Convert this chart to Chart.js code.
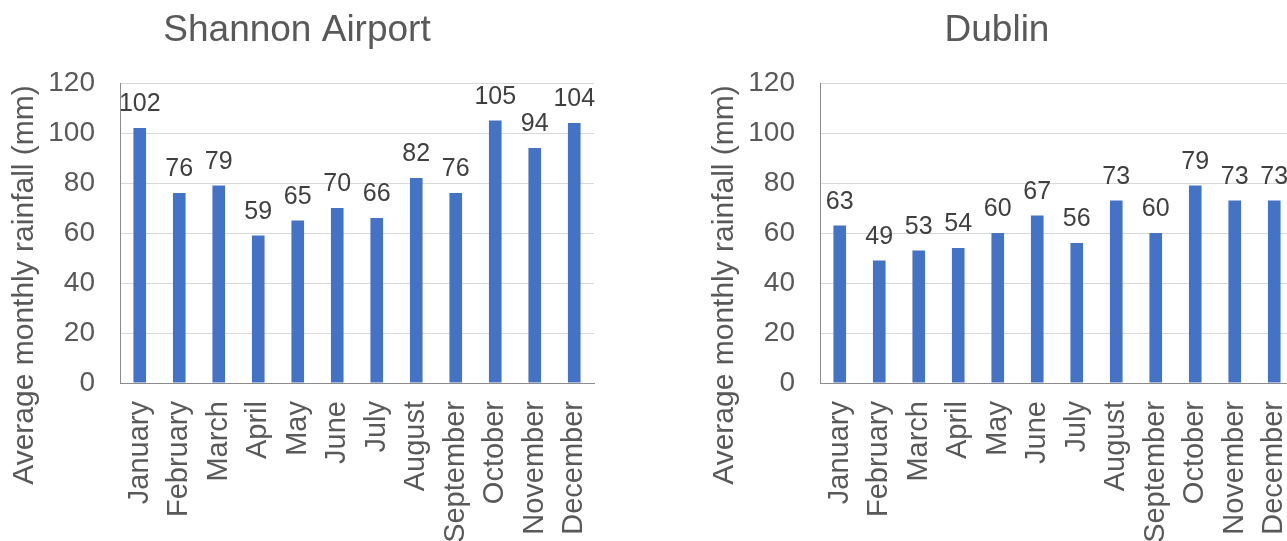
<!DOCTYPE html>
<html>
<head>
<meta charset="utf-8">
<script src="https://cdn.jsdelivr.net/npm/chart.js@4.4.1/dist/chart.umd.min.js"></script>
<style>
  html, body { margin: 0; padding: 0; background: #ffffff; overflow: hidden; width: 1287px; height: 541px; }
  .panel { position: absolute; top: 0; width: 600px; height: 541px; }
  #p1 { left: 0; }
  #p2 { left: 700px; }
</style>
</head>
<body>
<div class="panel" id="p1"><canvas id="shannon" width="600" height="541"></canvas></div>
<div class="panel" id="p2"><canvas id="dublin" width="600" height="541"></canvas></div>
<script>
// Average monthly rainfall (mm) at two Irish stations
const months = ['January', 'February', 'March', 'April', 'May', 'June', 'July',
                'August', 'September', 'October', 'November', 'December'];
const shannonRain = [102, 76, 79, 59, 65, 70, 66, 82, 76, 105, 94, 104];
const dublinRain  = [63, 49, 53, 54, 60, 67, 56, 73, 60, 79, 73, 73];
const yTicks = [0, 20, 40, 60, 80, 100, 120];
const axisTitleText = 'Average monthly rainfall (mm)';

const FONT = "'Liberation Sans', Arial, sans-serif";
const TEXT = '#595959';

// writes each bar's value above it
const valueLabels = {
  id: 'valueLabels',
  afterDatasetsDraw(chart) {
    const ctx = chart.ctx;
    const ds = chart.data.datasets[0];
    const meta = chart.getDatasetMeta(0);
    ctx.save();
    ctx.font = '25px ' + FONT;
    ctx.fillStyle = '#404040';
    ctx.textAlign = 'center';
    ctx.textBaseline = 'alphabetic';
    meta.data.forEach((bar, i) => ctx.fillText(String(ds.data[i]), bar.x, bar.y - 17));
    ctx.restore();
  }
};

// vertical axis title, set left of the tick labels
const axisTitle = {
  id: 'axisTitle',
  afterDraw(chart, args, opts) {
    const { ctx, chartArea } = chart;
    ctx.save();
    ctx.font = '30px ' + FONT;
    ctx.fillStyle = TEXT;
    ctx.textAlign = 'center';
    ctx.textBaseline = 'middle';
    ctx.translate(chartArea.left - 95, (chartArea.top + chartArea.bottom) / 2 + 52);
    ctx.rotate(-Math.PI / 2);
    ctx.fillText(opts.text, 0, 0);
    ctx.restore();
  }
};

function makeChart(id, title, values) {
  return new Chart(document.getElementById(id), {
    type: 'bar',
    data: {
      labels: months,
      datasets: [{
        data: values,
        backgroundColor: '#4472C4',
        borderWidth: 0,
        categoryPercentage: 1,
        barPercentage: 0.32
      }]
    },
    options: {
      responsive: false,
      animation: false,
      devicePixelRatio: 1,
      layout: { padding: { left: 0, right: 6, top: 0, bottom: 0 } },
      plugins: {
        legend: { display: false },
        tooltip: { enabled: false },
        title: {
          display: true,
          text: title,
          color: TEXT,
          font: { family: FONT, size: 37, weight: 'normal' },
          padding: { top: 9, bottom: 29.6 }
        },
        axisTitle: { text: axisTitleText }
      },
      scales: {
        x: {
          grid: { display: false, drawTicks: false },
          border: { display: true, color: '#8c8c8c', width: 1 },
          ticks: {
            color: TEXT,
            font: { family: FONT, size: 29 },
            autoSkip: false,
            minRotation: 90,
            maxRotation: 90,
            padding: 18
          },
          afterFit(scale) {
            scale.height = 158;
            scale.paddingLeft = 0;
            scale.paddingRight = 0;
          }
        },
        y: {
          min: yTicks[0],
          max: yTicks[yTicks.length - 1],
          grid: { color: '#d9d9d9', lineWidth: 1, drawTicks: false },
          border: { display: true, color: '#8c8c8c', width: 1 },
          ticks: {
            stepSize: yTicks[1] - yTicks[0],
            color: TEXT,
            font: { family: FONT, size: 28 },
            padding: 25
          },
          afterFit(scale) {
            scale.width = 120;
            scale.paddingTop = 0;
            scale.paddingBottom = 0;
          }
        }
      }
    },
    plugins: [valueLabels, axisTitle]
  });
}

makeChart('shannon', 'Shannon Airport', shannonRain);
makeChart('dublin', 'Dublin', dublinRain);
</script>
</body>
</html>
